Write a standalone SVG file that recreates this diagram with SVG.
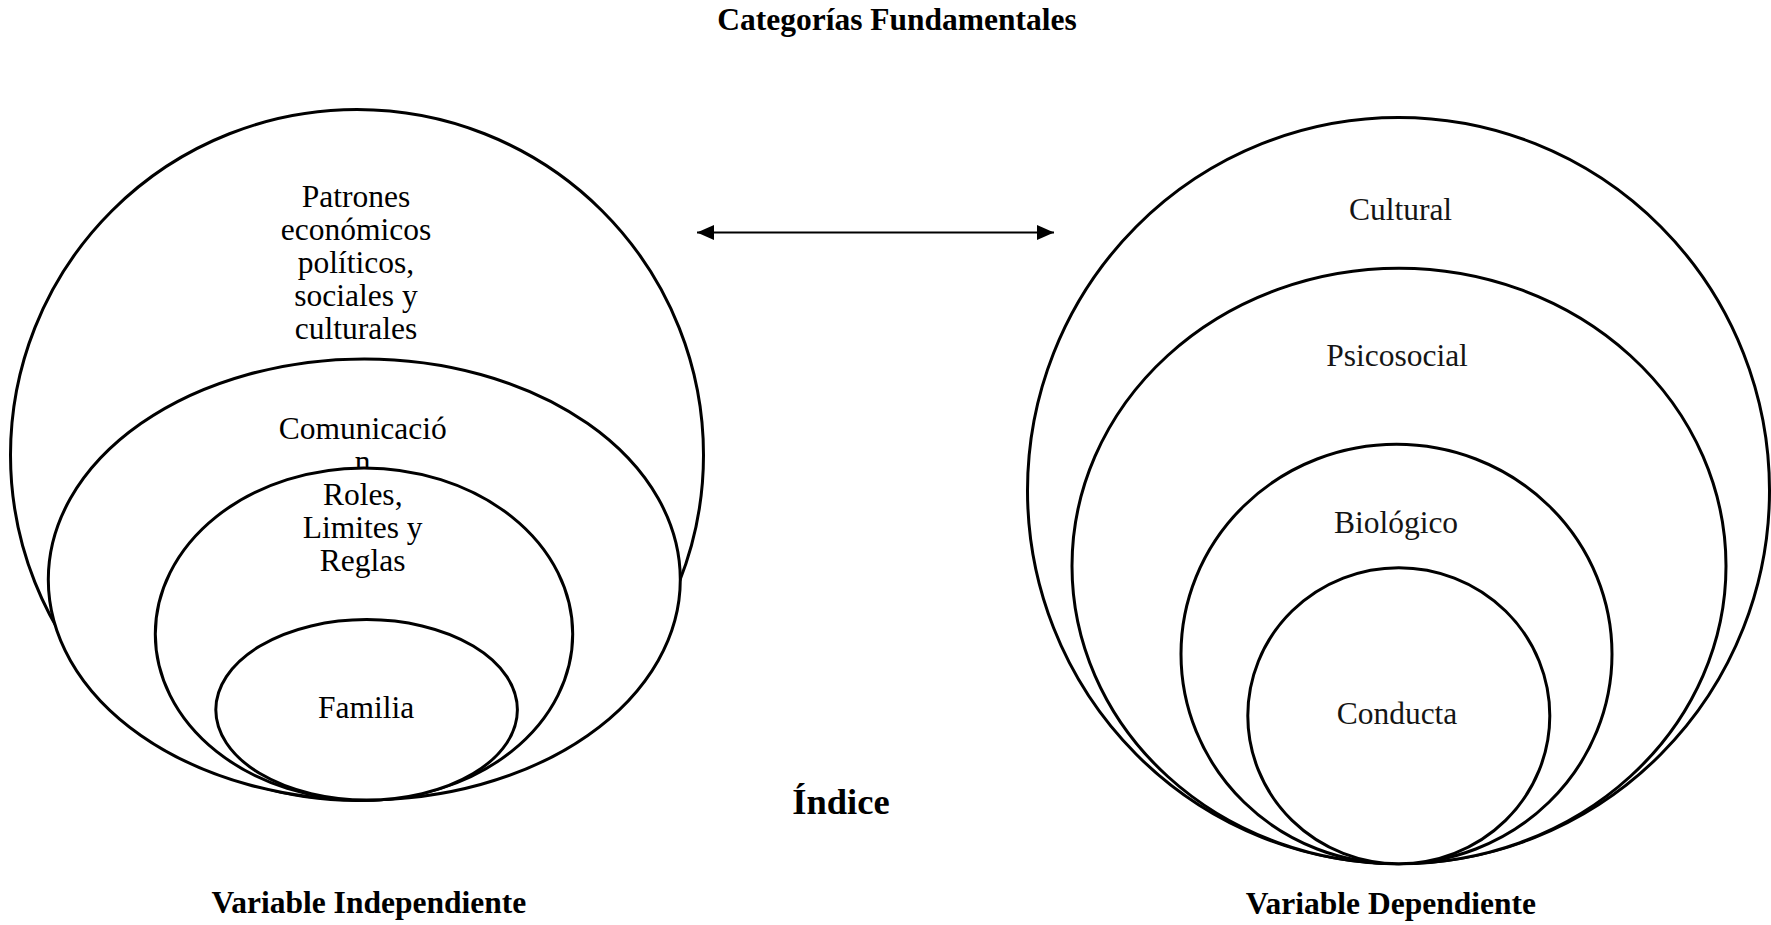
<svg xmlns="http://www.w3.org/2000/svg" width="1771" height="925" viewBox="0 0 1771 925">
<style>
.ring{fill:#fff;stroke:#000;stroke-width:3}
text{font-family:'Liberation Serif','Times New Roman',Tinos,'DejaVu Serif',serif}
.lbl{font-size:31.5px;text-anchor:middle;fill:#000}
.lblr{font-size:31.5px;text-anchor:middle;fill:#151515}
.bold{font-weight:bold;font-size:31.5px;text-anchor:middle;fill:#000}
</style>
<defs>
<marker id="ah" viewBox="0 0 17 15" refX="17" refY="7.5" markerWidth="17" markerHeight="15" markerUnits="userSpaceOnUse" orient="auto-start-reverse">
<path d="M0,0 L17,7.5 L0,15 z" fill="#000"/>
</marker>
</defs>
<rect width="1771" height="925" fill="#fff"/>
<text id="title" class="bold" x="897" y="30" font-family="Liberation Serif, serif">Categorías Fundamentales</text>

<g id="independiente" font-family="Liberation Serif, serif">
<g id="n-patrones">
<ellipse class="ring" cx="357" cy="455" rx="346.5" ry="345.5"/>
<text class="lbl" x="356" y="206.5">Patrones</text>
<text class="lbl" x="356" y="239.5">económicos</text>
<text class="lbl" x="356" y="272.5">políticos,</text>
<text class="lbl" x="356" y="305.5">sociales y</text>
<text class="lbl" x="356" y="338.5">culturales</text>
</g>
<g id="n-comunicacion">
<ellipse class="ring" cx="364.3" cy="579.5" rx="316" ry="220.5"/>
<text class="lbl" x="362.7" y="438.7">Comunicació</text>
<text class="lbl" x="362.7" y="471.7">n</text>
</g>
<g id="n-roles">
<ellipse class="ring" cx="364" cy="634" rx="208.7" ry="166"/>
<text class="lbl" x="362.7" y="504.7">Roles,</text>
<text class="lbl" x="362.7" y="537.7">Limites y</text>
<text class="lbl" x="362.7" y="570.7">Reglas</text>
</g>
<g id="n-familia">
<ellipse class="ring" cx="366.6" cy="709.8" rx="150.8" ry="90.2"/>
<text class="lbl" x="366" y="718">Familia</text>
</g>
</g>

<g id="dependiente">
<g id="n-cultural">
<ellipse class="ring" cx="1398.5" cy="490.5" rx="371" ry="373"/>
<text class="lblr" x="1400.5" y="219.5">Cultural</text>
</g>
<g id="n-psicosocial">
<ellipse class="ring" cx="1399" cy="566" rx="327" ry="297.7"/>
<text class="lblr" x="1397" y="366">Psicosocial</text>
</g>
<g id="n-biologico">
<ellipse class="ring" cx="1396.5" cy="654" rx="215.5" ry="209.7"/>
<text class="lblr" x="1396" y="533">Biológico</text>
</g>
<g id="n-conducta">
<ellipse class="ring" cx="1398.8" cy="715.7" rx="151" ry="148"/>
<text class="lblr" x="1397" y="724.4">Conducta</text>
</g>
</g>

<g id="connectors">
<line x1="697" y1="232.5" x2="1054" y2="232.5" stroke="#000" stroke-width="2.2" marker-start="url(#ah)" marker-end="url(#ah)"/>
</g>

<text id="indice" class="bold" x="841" y="814" style="font-size:36.5px">Índice</text>
<text id="vi" class="bold" x="368.8" y="913">Variable Independiente</text>
<text id="vd" class="bold" x="1390.8" y="914">Variable Dependiente</text>
</svg>
